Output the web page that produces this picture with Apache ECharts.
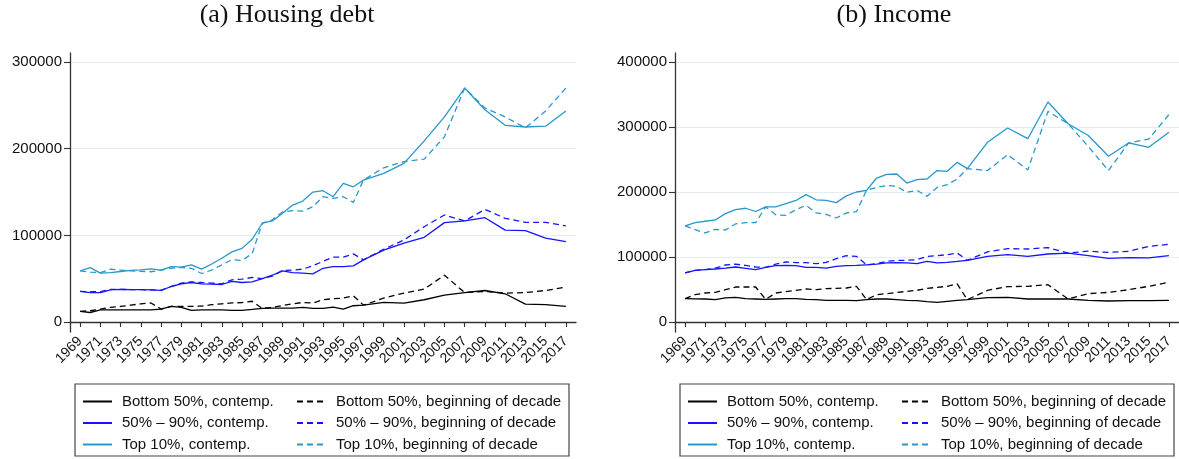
<!DOCTYPE html>
<html>
<head>
<meta charset="utf-8">
<script src="https://cdn.jsdelivr.net/npm/echarts@6/dist/echarts.min.js"></script>
<style>
  html, body { margin: 0; padding: 0; background: #fff; }
  #chart { width: 1179px; height: 459px; }
</style>
</head>
<body>
<div id="chart"></div>
<script>
const BLACK = "#000000";
const BLUE = "#1414ff";
const TEAL = "#2798ca";
const AXIS = "#333333";
const GRIDLINE = "#e4eef0";

// survey years (annual until 1997, then every two years)
const years = [
  1969, 1970, 1971, 1972, 1973, 1974, 1975, 1976, 1977, 1978, 1979, 1980, 1981, 1982, 1983,
  1984, 1985, 1986, 1987, 1988, 1989, 1990, 1991, 1992, 1993, 1994, 1995, 1996, 1997,
  1999, 2001, 2003, 2005, 2007, 2009, 2011, 2013, 2015, 2017,
];

// axis categories 1968..2018, labels on odd years only
const axisYears = [
  1968, 1969, 1970, 1971, 1972, 1973, 1974, 1975, 1976, 1977, 1978, 1979, 1980, 1981, 1982,
  1983, 1984, 1985, 1986, 1987, 1988, 1989, 1990, 1991, 1992, 1993, 1994, 1995, 1996, 1997,
  1998, 1999, 2000, 2001, 2002, 2003, 2004, 2005, 2006, 2007, 2008, 2009, 2010, 2011, 2012,
  2013, 2014, 2015, 2016, 2017, 2018,
];

// (a) housing debt, thousands
const debtB50c = [12.3, 11, 14, 14, 14, 14, 14, 14, 15, 18, 17, 13.4, 14, 14, 14, 13.5, 13.4, 14.5, 15.7,
  16, 16, 16, 17, 15.7, 15.7, 17.3, 15, 18.8, 19.5, 22.6, 21.9, 25.7, 31, 34, 36.4, 32.6, 20.7, 20, 18];
const debtB50d = [12.3, 13, 15, 17, 18, 19.5, 21, 22, 15, 18, 18, 18, 18.4, 20, 21, 22, 22.5, 24, 15.7,
  17, 19, 21, 22.6, 21.9, 25.7, 27, 27.6, 30.3, 19.5, 27.6, 33.4, 38, 54, 34, 35.3, 33.4, 34, 36.4, 40.3];
const debtM40c = [35.3, 34, 34, 37, 37.6, 37.5, 37.3, 37, 36.5, 41, 44, 45.6, 44, 43.7, 43.3, 47, 45.6, 46.4, 50,
  54, 59, 57, 56.4, 55.6, 62, 64, 64, 64.8, 71.7, 83, 91, 97.8, 114.7, 116.6, 120.4, 106, 105.5, 96.7, 92.8];
const debtM40d = [35.3, 35, 35, 37.6, 37.6, 37.5, 37.3, 37, 36.5, 41, 45, 46.4, 45.6, 45, 44, 48.7, 49.5, 51.4, 50,
  53, 59.5, 60, 61, 65, 70, 74.8, 74.8, 78.6, 71.7, 84, 94.7, 110, 123.5, 116.6, 130, 119.7, 115, 115, 110.9];
const debtT10c = [59, 62.8, 56.4, 57, 58.3, 59.5, 60.2, 61.4, 60, 64, 63.3, 66, 61, 67, 73.6, 81, 85, 95.5, 114,
  116.6, 125.4, 135, 139.6, 150, 151.5, 144.6, 160, 156, 163.8, 171.5, 183, 209, 236.7, 270, 245, 227, 225, 226, 243.6];
const debtT10d = [59, 57.5, 57, 61, 60, 59, 58.5, 58, 60, 62, 63, 62, 56, 60, 66, 72, 71, 79, 114,
  118, 127, 128.5, 128, 133, 144.6, 142.7, 144.6, 138, 163.8, 178, 185, 188, 213.7, 270, 247, 236.7, 224, 243.6, 270];

// (b) income, thousands
const incB50c = [35.9, 35.6, 35.4, 34.4, 37, 38, 35.9, 35.4, 34.9, 35.4, 35.9, 35.9, 34.9, 34.4, 33.3, 33.3, 33.3, 32.8, 34.4,
  35.4, 35.4, 34.4, 33.3, 32.8, 31.3, 30.3, 31.8, 33.3, 34.4, 37.4, 38, 35.4, 35.4, 35.4, 33.3, 32.3, 32.8, 32.8, 33.3];
const incB50d = [35.9, 42, 44.6, 45.6, 49.7, 53.8, 53.8, 53.8, 34.9, 44.6, 46.7, 48.7, 50.8, 49.7, 51.3, 51.8, 52.3, 54.9, 34.4,
  42, 43.6, 45.6, 47, 48.7, 51.8, 53.3, 54.9, 58.5, 34.4, 48.7, 54.4, 54.9, 57.4, 35.4, 43.6, 45.6, 49.7, 54.9, 61];
const incM40c = [75.4, 79.5, 80.5, 81.5, 83, 84.6, 82.6, 80.5, 84, 86.7, 87, 86.7, 84, 84, 83, 85.6, 86.7, 87, 88,
  89, 90.8, 91.3, 90.8, 89.7, 93.3, 90.8, 91.8, 93.3, 94.9, 101, 103.6, 101, 104.6, 106, 102, 98, 99, 98.5, 102];
const incM40d = [75.4, 79.5, 80.5, 83, 87.7, 89, 87, 84.6, 84, 89, 92.3, 91.3, 91.3, 89.7, 91.8, 97.4, 102, 101, 88,
  89.7, 93.3, 94.9, 94.9, 95.9, 101, 102, 103.6, 106, 94.9, 108, 112.8, 112.3, 114.4, 106, 109, 107, 108.7, 116.4, 119.5];
const incT10c = [148, 153, 155, 157, 166.7, 173, 175, 170, 177, 177, 182, 187, 196, 188, 187, 183.6, 194, 200, 202.6,
  221.5, 227, 227.7, 213.8, 219, 220, 233, 231.8, 245.6, 236, 276.4, 298.5, 282, 338.5, 305, 287, 254.9, 275.4, 268.7, 291.8];
const incT10d = [148, 142, 137, 142.6, 141.5, 150.8, 152.8, 152.8, 177, 165, 164, 172.8, 179.5, 168, 165.6, 160, 167.7, 169.7, 202.6,
  207, 210, 208.7, 199.5, 202.6, 193.3, 207, 211.3, 220, 236, 233, 257.4, 234, 324, 305, 270, 233, 275.4, 281.5, 319];

const debtTicks = [0, 100000, 200000, 300000];
const incomeTicks = [0, 100000, 200000, 300000, 400000];

const namesContemp = ["Bottom 50%, contemp.", "50% \u2013 90%, contemp.", "Top 10%, contemp."];
const namesDecade = ["Bottom 50%, beginning of decade", "50% \u2013 90%, beginning of decade", "Top 10%, beginning of decade"];
const titles = ["(a) Housing debt", "(b) Income"];

const chart = echarts.init(document.getElementById("chart"), undefined, { renderer: "canvas" });

const SANS = "'Liberation Sans', Arial, sans-serif";
const SERIF = "'Liberation Serif', serif";
const oddYear = (idx, val) => Number(val) % 2 === 1;

function xAxis(gridIndex) {
  return {
    type: "category",
    gridIndex,
    data: axisYears.map(String),
    boundaryGap: false,
    axisLine: { lineStyle: { color: AXIS, width: 1.3 } },
    axisTick: { interval: oddYear, length: 5, lineStyle: { color: AXIS, width: 1.1 } },
    axisLabel: { interval: oddYear, rotate: 45, margin: 7, color: "#111", fontSize: 14, fontFamily: SANS },
    splitLine: { show: false },
  };
}

function yAxis(gridIndex, min, max, ticks) {
  return {
    type: "value",
    gridIndex,
    min,
    max,
    axisLine: { show: true, lineStyle: { color: AXIS, width: 1.3 } },
    axisTick: { show: true, customValues: ticks, length: 6, lineStyle: { color: AXIS, width: 1.1 } },
    axisLabel: { customValues: ticks, margin: 8, color: "#111", fontSize: 15, fontFamily: SANS, formatter: (v) => String(v) },
    splitLine: { show: true, lineStyle: { color: GRIDLINE, width: 1 } },
  };
}

function line(name, vals, color, dashed, idx) {
  return {
    name,
    type: "line",
    xAxisIndex: idx,
    yAxisIndex: idx,
    data: years.map((y, i) => [String(y), vals[i] * 1000]),
    symbol: "none",
    lineStyle: { color, width: 1.3, type: dashed ? [6, 4] : "solid" },
    itemStyle: { color },
  };
}

function legend(left, data) {
  return {
    orient: "vertical",
    left,
    top: 394,
    padding: 0,
    itemWidth: 29,
    itemHeight: 14,
    itemGap: 6.5,
    data,
    // line-only keys: hide the marker that line series add in the middle
    itemStyle: { opacity: 0, borderWidth: 0 },
    textStyle: { color: "#111", fontSize: 15, fontFamily: SANS, padding: [0, 0, 0, 5] },
  };
}

function title(text, x) {
  return {
    text, left: x, top: 2, textAlign: "center", padding: 0,
    textStyle: { fontFamily: SERIF, fontSize: 26, fontWeight: "normal", color: "#111" },
  };
}

chart.setOption({
  animation: false,
  title: [title(titles[0], 287), title(titles[1], 894)],
  grid: [
    { left: 70, top: 53, width: 506, height: 279 },
    { left: 675, top: 53, width: 506, height: 279 },
  ],
  xAxis: [xAxis(0), xAxis(1)],
  yAxis: [yAxis(0, -11500, 310400, debtTicks), yAxis(1, -15400, 413850, incomeTicks)],
  legend: [
    legend(82, namesContemp),
    legend(296, namesDecade),
    legend(687, namesContemp),
    legend(901, namesDecade),
  ],
  graphic: [
    { type: "rect", shape: { x: 75, y: 384, width: 494, height: 72 }, style: { fill: "none", stroke: "#444", lineWidth: 1.2 } },
    { type: "rect", shape: { x: 680, y: 384, width: 494, height: 72 }, style: { fill: "none", stroke: "#444", lineWidth: 1.2 } },
  ],
  series: [
    line(namesContemp[0], debtB50c, BLACK, false, 0),
    line(namesDecade[0], debtB50d, BLACK, true, 0),
    line(namesContemp[1], debtM40c, BLUE, false, 0),
    line(namesDecade[1], debtM40d, BLUE, true, 0),
    line(namesContemp[2], debtT10c, TEAL, false, 0),
    line(namesDecade[2], debtT10d, TEAL, true, 0),
    line(namesContemp[0], incB50c, BLACK, false, 1),
    line(namesDecade[0], incB50d, BLACK, true, 1),
    line(namesContemp[1], incM40c, BLUE, false, 1),
    line(namesDecade[1], incM40d, BLUE, true, 1),
    line(namesContemp[2], incT10c, TEAL, false, 1),
    line(namesDecade[2], incT10d, TEAL, true, 1),
  ],
});
</script>
</body>
</html>
